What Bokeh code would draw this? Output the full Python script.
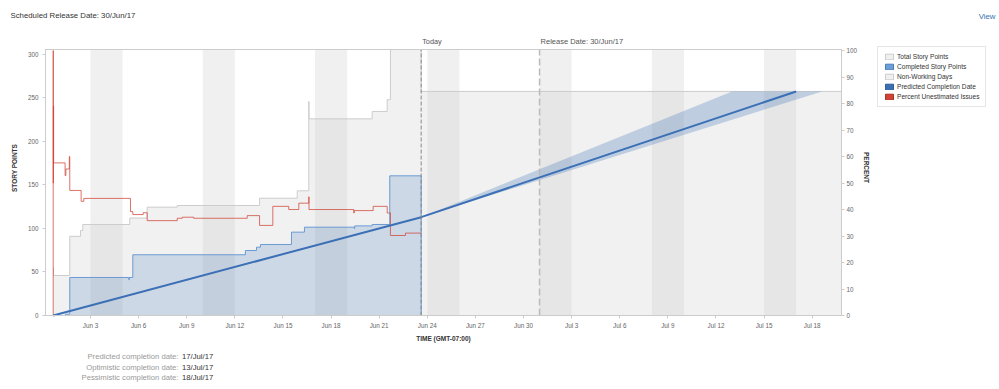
import math
import pandas as pd
from bokeh.plotting import figure
from bokeh.models import (Range1d, LinearAxis, DatetimeTickFormatter, FixedTicker,
                          Label, Legend, LegendItem)
from bokeh.embed import file_html
from bokeh.resources import INLINE

FONT = "Liberation Sans"

# ---------------- data ----------------
total_times = ["2017-05-31 16:10", "2017-05-31 16:40", "2017-06-01 17:00", "2017-06-02 09:00",
               "2017-06-02 12:30", "2017-06-05 10:45", "2017-06-06 12:45", "2017-06-08 09:50",
               "2017-06-13 13:00", "2017-06-15 21:20", "2017-06-16 14:40", "2017-06-16 15:00",
               "2017-06-20 13:30", "2017-06-21 12:00", "2017-06-21 16:50", "2017-06-23 14:50",
               "2017-07-19 19:50"]
total_points = [55, 46, 91, 97.7, 104.6, 112, 124.5, 126.4, 134.8, 143.3, 246, 226,
                234.5, 248, 330, 257.5, 257.5]

done_times = ["2017-05-31 16:10", "2017-06-01 10:30", "2017-06-01 17:00", "2017-06-05 09:20",
              "2017-06-05 10:00", "2017-06-05 15:20", "2017-06-12 15:50", "2017-06-13 08:25",
              "2017-06-13 14:20", "2017-06-15 12:45", "2017-06-16 08:10", "2017-06-19 10:40",
              "2017-06-19 11:20", "2017-06-20 13:30", "2017-06-21 15:50", "2017-06-23 14:50"]
done_points = [0, 1.5, 43.7, 41, 43.7, 69.8, 74.7, 78.5, 81.6, 95.8, 101.5, 100, 103,
               104.6, 160.5, 0]

unest_times = ["2017-05-31 16:10", "2017-05-31 16:11", "2017-05-31 16:20", "2017-05-31 16:30",
               "2017-05-31 16:50", "2017-06-01 10:00", "2017-06-01 11:10", "2017-06-01 16:20",
               "2017-06-01 17:00", "2017-06-02 10:00", "2017-06-02 14:00", "2017-06-05 11:50",
               "2017-06-05 15:20", "2017-06-06 06:50", "2017-06-06 12:50", "2017-06-08 09:50",
               "2017-06-08 17:15", "2017-06-09 10:35", "2017-06-12 18:30", "2017-06-13 13:00",
               "2017-06-14 08:50", "2017-06-15 08:40", "2017-06-15 23:45", "2017-06-16 14:40",
               "2017-06-16 15:00", "2017-06-19 10:00", "2017-06-19 10:40", "2017-06-20 15:00",
               "2017-06-21 12:00", "2017-06-21 16:50", "2017-06-22 15:20", "2017-06-23 14:50"]
unest_pct = [0, 100, 50, 79, 57.6, 52.8, 55.3, 60, 47.2, 43.1, 44.2, 39.2, 38.1, 38.8, 35.8,
             36.7, 37.1, 36.7, 37.7, 34, 41.2, 40, 42.4, 44.8, 40, 38.7, 39.6, 41.2, 38.7,
             30.2, 31.1, 31.1]

weekend_starts = ["2017-06-03", "2017-06-10", "2017-06-17", "2017-06-24", "2017-07-01",
                  "2017-07-08", "2017-07-15"]
weekend_ends = ["2017-06-05", "2017-06-12", "2017-06-19", "2017-06-26", "2017-07-03",
                "2017-07-10", "2017-07-17"]

trend_times = ["2017-05-31 16:10", "2017-06-23 14:50", "2017-07-17 00:00"]
trend_points = [0, 113, 257.5]
band_times = ["2017-06-23 14:50", "2017-07-13 00:00", "2017-07-18 15:00"]
band_points = [113, 257.5, 257.5]

today = "2017-06-23 14:50"
release = "2017-07-01 00:00"
x_start, x_end = "2017-05-31 04:40", "2017-07-19 19:50"
story_max, pct_max = 305.7, 100.4

story_ticks = [0, 50, 100, 150, 200, 250, 300]
pct_ticks = [0, 10, 20, 30, 40, 50, 60, 70, 80, 90, 100]
tick_dates = ["2017-06-03", "2017-06-06", "2017-06-09", "2017-06-12", "2017-06-15",
              "2017-06-18", "2017-06-21", "2017-06-24", "2017-06-27", "2017-06-30",
              "2017-07-03", "2017-07-06", "2017-07-09", "2017-07-12", "2017-07-15",
              "2017-07-18"]

summary_labels = ["Predicted completion date:", "Optimistic completion date:",
                  "Pessimistic completion date:"]
summary_values = ["17/Jul/17", "13/Jul/17", "18/Jul/17"]
legend_labels = ["Total Story Points", "Completed Story Points", "Non-Working Days",
                 "Predicted Completion Date", "Percent Unestimated Issues"]

# ---------------- layout (canvas pixels) ----------------
W, H = 999, 389
FL, FR, FT, FB = 45, 841, 49, 315      # chart area inside the canvas


def ts(v):
    return pd.to_datetime(v)


def ms(v):
    return pd.Timestamp(v).timestamp() * 1000.0


xs_ms, xe_ms = ms(x_start), ms(x_end)
mpp = (xe_ms - xs_ms) / (FR - FL)
x_rng = Range1d(xs_ms - FL * mpp, xs_ms + (W - FL) * mpp)
ppu = (FB - FT) / story_max
y_rng = Range1d(-(H - FB) / ppu, story_max + FT / ppu)
ppp = (FB - FT) / pct_max
pct_rng = Range1d(-(H - FB) / ppp, pct_max + FT / ppp)

p = figure(width=W, height=H, x_axis_type="datetime", x_range=x_rng, y_range=y_rng,
           output_backend="svg", toolbar_location=None, title=None,
           min_border_left=0, min_border_right=0, min_border_top=0, min_border_bottom=0)
p.extra_y_ranges = {"pct": pct_rng}
p.xgrid.visible = False
p.ygrid.visible = False
p.outline_line_color = None
p.background_fill_color = "white"
p.border_fill_color = "white"

# non-working days
p.quad(left=ts(weekend_starts), right=ts(weekend_ends), bottom=0, top=story_max,
       fill_color="#c8c8c8", fill_alpha=0.27, line_color=None)

# total story points (capped at the axis top like a clipped chart)
total_drawn = [min(v, story_max) for v in total_points]
p.varea_step(x=ts(total_times), y1=[0] * len(total_drawn), y2=total_drawn,
             step_mode="after", fill_color="#cfcfcf", fill_alpha=0.3)
p.step(x=ts(total_times), y=total_drawn, mode="after", line_color="#cccccc", line_width=1)

# completed story points
p.varea_step(x=ts(done_times), y1=[0] * len(done_points), y2=done_points,
             step_mode="after", fill_color="#4a7ebb", fill_alpha=0.22)
p.step(x=ts(done_times), y=done_points, mode="after", line_color="#6b9bd2", line_width=1)

# percent unestimated
p.step(x=ts(unest_times), y=unest_pct, mode="after", y_range_name="pct",
       line_color="#d04437", line_alpha=0.75, line_width=1)

# prediction band + predicted line
p.patch(x=ts(band_times), y=band_points, fill_color="#4a7ebb", fill_alpha=0.3, line_color=None)
p.line(x=ts(trend_times), y=trend_points, line_color="#3b6fb6", line_width=2)

# today / release markers
p.segment(x0=[ts(today)], y0=[0], x1=[ts(today)], y1=[story_max], line_color="#888888",
          line_dash="4 2", line_width=1)
p.segment(x0=[ts(release)], y0=[0], x1=[ts(release)], y1=[story_max], line_color="#bbbbbb",
          line_dash="7 3", line_width=1.5)

# chart border
p.quad(left=[ts(x_start)], right=[ts(x_end)], bottom=[0], top=[story_max],
       fill_color=None, line_color="#cccccc", line_width=1)

# axes pinned to the chart area
right_axis = LinearAxis(y_range_name="pct", ticker=FixedTicker(ticks=pct_ticks))
p.add_layout(right_axis, "right")
xaxis, yaxis = p.xaxis[0], p.yaxis[0]
yaxis.ticker = FixedTicker(ticks=story_ticks)
xaxis.ticker = FixedTicker(ticks=[ms(d) for d in tick_dates])
fmt = "%b %-d"
xaxis.formatter = DatetimeTickFormatter(days=fmt, months=fmt, hours=fmt, years=fmt)
xaxis.fixed_location = 0
xaxis.bounds = (xs_ms, xe_ms)
yaxis.fixed_location = xs_ms
yaxis.bounds = (0, story_max)
right_axis.fixed_location = xe_ms
right_axis.bounds = (0, pct_max)
xaxis.major_label_standoff = 3
yaxis.major_label_standoff = 4
right_axis.major_label_standoff = 2
for ax in [xaxis, yaxis, right_axis]:
    ax.axis_line_color = "#cccccc"
    ax.major_tick_line_color = "#cccccc"
    ax.major_tick_out = 3
    ax.major_tick_in = 0
    ax.minor_tick_line_color = None
    ax.major_label_text_font = FONT
    ax.major_label_text_font_size = "6.3px"
    ax.major_label_text_color = "#666666"

# legend with swatches (swatch renderers hold no drawable point)
nan = float("nan")
sw_colors = [("#f0f0f0", "#cccccc"), ("#6b9fd6", "#4a7ebb"), ("#f0f0f0", "#cccccc"),
             ("#3b6fb0", "#2d5d9f"), ("#d04437", "#b03020")]
items = []
for name, (fc, lc) in zip(legend_labels, sw_colors):
    r = p.quad(left=[nan], right=[nan], bottom=[nan], top=[nan], fill_color=fc, line_color=lc)
    items.append(LegendItem(label=name, renderers=[r]))
legend = Legend(items=items, location=(877, H - 47 - 60), orientation="vertical",
                glyph_width=10, glyph_height=7, label_height=7, label_standoff=3,
                spacing=3, padding=6, margin=0, border_line_color="#cccccc",
                label_text_font=FONT, label_text_font_size="6.6px",
                label_text_color="#333333", background_fill_alpha=1.0)
p.add_layout(legend)


def lab(text, x, y, size="7px", color="#333333", align="left", style="normal",
        angle=0.0, xu="screen", x_offset=0):
    p.add_layout(Label(x=x, y=H - y, x_units=xu, y_units="screen", text=text,
                       text_font=FONT, text_font_size=size, text_color=color,
                       text_align=align, text_baseline="middle", text_font_style=style,
                       angle=angle, x_offset=x_offset))


lab("Scheduled Release Date: 30/Jun/17", 10, 15, size="7.8px")
lab("View", 995, 16, size="7.8px", color="#3572b0", align="right")
lab("Today", ms(today), 41, size="7.3px", color="#555555", xu="data", x_offset=1)
lab("Release Date: 30/Jun/17", ms(release), 41, size="7.5px", color="#555555", xu="data",
    x_offset=1)
lab("STORY POINTS", 14, 167.5, size="6.5px", style="bold", align="center", angle=math.pi / 2)
lab("PERCENT", 866, 167, size="6.5px", style="bold", align="center", angle=-math.pi / 2)
lab("TIME (GMT-07:00)", (FL + FR) / 2, 337.5, size="6.5px", style="bold", align="center")
for i, (t, v) in enumerate(zip(summary_labels, summary_values)):
    yy = 356 + i * 10.6
    lab(t, 178, yy, size="7.7px", color="#999999", align="right")
    lab(v, 181.5, yy, size="7.7px", color="#333333")

open("out.html", "w").write(file_html(p, INLINE))
